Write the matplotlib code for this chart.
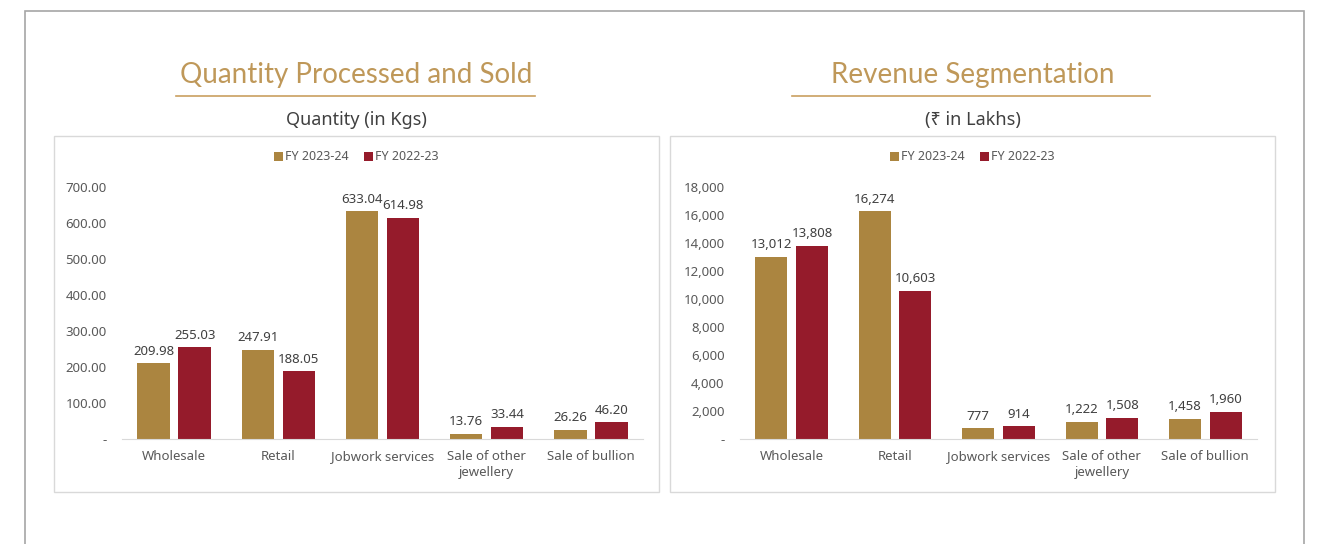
"""
Quantity processed / revenue segmentation - two grouped bar panels
"""
import matplotlib.pyplot as plt
import numpy as np
from matplotlib.patches import Rectangle
from matplotlib.lines import Line2D

W, H = 1326, 544
GOLD = '#AB8540'
RED = '#951B2B'
TITLE_GOLD = '#BF9859'
LINE_GOLD = '#C9A060'
TXT = '#404040'
TICK = '#595959'
BOX = '#D9D9D9'

plt.rcParams['font.family'] = ['Noto Sans', 'DejaVu Sans']

categories = ['Wholesale', 'Retail', 'Jobwork services', 'Sale of other\njewellery', 'Sale of bullion']
series = ['FY 2023-24', 'FY 2022-23']

qty_2324 = [209.98, 247.91, 633.04, 13.76, 26.26]
qty_2223 = [255.03, 188.05, 614.98, 33.44, 46.20]
qty_ticks = [0, 100, 200, 300, 400, 500, 600, 700]

rev_2324 = [13012, 16274, 777, 1222, 1458]
rev_2223 = [13808, 10603, 914, 1508, 1960]
rev_ticks = [0, 2000, 4000, 6000, 8000, 10000, 12000, 14000, 16000, 18000]


def fx(px):
    return px / W


def fy(py):
    return 1 - py / H


fig = plt.figure(figsize=(W / 100, H / 100), dpi=100)
fig.patch.set_facecolor('white')

# outer frame (bottom runs off the page)
fig.patches.append(Rectangle((fx(25), fy(600)), fx(1304) - fx(25), fy(11) - fy(600),
                             transform=fig.transFigure, fill=False, ec='#A6A6A6', lw=1.2))


def panel(x0, x1, ax_l, ax_r, title, subtitle, v1, v2, ticks, fmt, line_x):
    cx = (x0 + x1) / 2
    fig.text(fx(cx), fy(75), title, ha='center', va='center', fontsize=20,
             color=TITLE_GOLD, family=['Lato', 'DejaVu Sans'], fontweight='normal')
    fig.add_artist(Line2D([fx(line_x[0]), fx(line_x[1])], [fy(96), fy(96)],
                          transform=fig.transFigure, color=LINE_GOLD, lw=1.2))
    fig.text(fx(cx), fy(120), subtitle, ha='center', va='center', fontsize=13, color=TXT)
    fig.patches.append(Rectangle((fx(x0), fy(492)), fx(x1) - fx(x0), fy(136) - fy(492),
                                 transform=fig.transFigure, fill=False, ec=BOX, lw=1))

    ax = fig.add_axes([fx(ax_l), fy(439), fx(ax_r) - fx(ax_l), fy(187) - fy(439)])
    x = np.arange(len(categories))
    w, off = 0.31, 0.197
    b1 = ax.bar(x - off, v1, w, color=GOLD, label=series[0])
    b2 = ax.bar(x + off, v2, w, color=RED, label=series[1])
    for bars, vals in ((b1, v1), (b2, v2)):
        for b, v in zip(bars, vals):
            ax.annotate(fmt(v), (b.get_x() + b.get_width() / 2, v), xytext=(0, 4),
                        textcoords='offset points', ha='center', va='bottom',
                        fontsize=9.5, color=TXT)
    ax.set_xlim(-0.5, len(categories) - 0.5)
    ax.set_ylim(0, ticks[-1])
    ax.set_yticks(ticks)
    ax.set_yticklabels(['-' if t == 0 else fmt(t) for t in ticks])
    ax.set_xticks(x)
    ax.set_xticklabels(categories, linespacing=1.3)
    ax.tick_params(axis='both', length=0, labelsize=9.5, colors=TICK)
    ax.tick_params(axis='y', pad=11)
    ax.tick_params(axis='x', pad=8)
    for s in ('top', 'right', 'left'):
        ax.spines[s].set_visible(False)
    ax.spines['bottom'].set_color(BOX)
    ax.set_facecolor('none')
    ax.legend(ncol=2, frameon=False, loc='center', fontsize=9,
              bbox_to_anchor=(fx(cx), fy(157)), bbox_transform=fig.transFigure,
              handlelength=0.7, handleheight=0.7, handletextpad=0.2, columnspacing=1.2,
              labelcolor=TICK)
    return ax


panel(54, 659, 122, 643, 'Quantity Processed and Sold', 'Quantity (in Kgs)',
      qty_2324, qty_2223, qty_ticks, lambda v: f'{v:,.2f}', (176, 535))
panel(670, 1275, 740, 1257, 'Revenue Segmentation', '(\u20b9 in Lakhs)',
      rev_2324, rev_2223, rev_ticks, lambda v: f'{v:,.0f}', (792, 1150))

plt.savefig('out.png', dpi=100, facecolor='white')
plt.close()
